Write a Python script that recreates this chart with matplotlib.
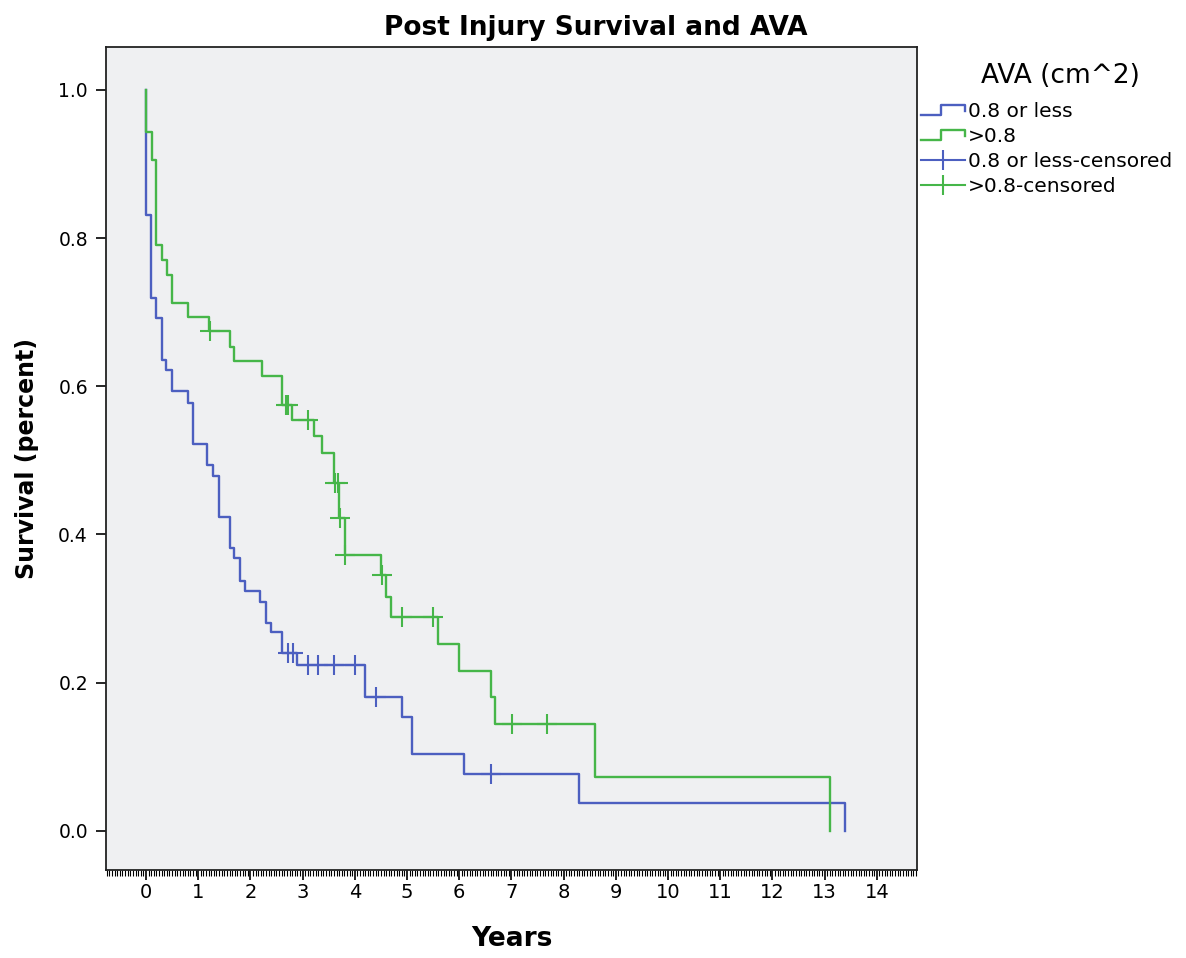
import numpy as np
import matplotlib.pyplot as plt
from matplotlib.lines import Line2D
from matplotlib.legend_handler import HandlerBase
from matplotlib.ticker import MultipleLocator

# Kaplan-Meier steps: time of each drop and survival after it
low_t = [0.0, 0.0, 0.09, 0.19, 0.30, 0.38, 0.50, 0.81, 0.91, 1.17, 1.29, 1.40,
         1.61, 1.69, 1.80, 1.90, 2.18, 2.30, 2.39, 2.60, 2.90, 4.20, 4.90,
         5.10, 6.10, 8.30, 13.39]
low_s = [1.0, 0.831, 0.719, 0.692, 0.636, 0.622, 0.593, 0.578, 0.522, 0.494,
         0.479, 0.423, 0.382, 0.368, 0.337, 0.324, 0.309, 0.281, 0.268, 0.240,
         0.224, 0.180, 0.154, 0.103, 0.0765, 0.038, 0.0]
low_cens = [2.72, 2.82, 3.10, 3.29, 3.60, 4.00, 4.41, 6.60]

high_t = [0.0, 0.0, 0.11, 0.19, 0.30, 0.41, 0.50, 0.81, 1.21, 1.60, 1.69, 2.22,
          2.60, 2.79, 3.21, 3.38, 3.61, 3.70, 3.81, 4.51, 4.60, 4.69, 5.60,
          6.00, 6.60, 6.69, 8.60, 13.10]
high_s = [1.0, 0.943, 0.905, 0.791, 0.771, 0.750, 0.712, 0.693, 0.674, 0.653,
          0.634, 0.614, 0.575, 0.555, 0.533, 0.510, 0.469, 0.422, 0.3725,
          0.345, 0.316, 0.288, 0.252, 0.216, 0.180, 0.144, 0.072, 0.0]
high_cens = [1.22, 2.68, 2.73, 3.11, 3.62, 3.67, 3.72, 3.82, 4.52, 4.90, 5.50,
             7.01, 7.69]

labels = ['0.8 or less', '>0.8', '0.8 or less-censored', '>0.8-censored']
blue = '#4c5fc0'
green = '#46b649'


def surv_at(times, t, s):
    idx = np.searchsorted(t, times, side='right') - 1
    return np.array(s)[idx]


class StepHandler(HandlerBase):
    def create_artists(self, legend, orig_handle, xdescent, ydescent,
                       width, height, fontsize, trans):
        x0, y0 = -xdescent, -ydescent
        xm = x0 + 0.45 * width
        xs = [x0, xm, xm, x0 + width, x0 + width]
        ys = [y0 + 0.15 * height, y0 + 0.15 * height, y0 + 0.85 * height,
              y0 + 0.85 * height, y0 + 0.45 * height]
        line = Line2D(xs, ys, color=orig_handle.get_color(),
                      lw=orig_handle.get_linewidth())
        line.set_transform(trans)
        return [line]


fig = plt.figure(figsize=(11.86, 9.58), dpi=100)
ax = fig.add_axes([106 / 1186, 1 - 870 / 958, 811 / 1186, 823 / 958])
ax.set_facecolor('#eff0f2')

l1, = ax.step(low_t, low_s, where='post', color=blue, lw=1.7)
l2, = ax.step(high_t, high_s, where='post', color=green, lw=1.7)
ax.plot(low_cens, surv_at(low_cens, low_t, low_s), ls='none', marker='+',
        ms=14, mew=1.5, color=blue)
ax.plot(high_cens, surv_at(high_cens, high_t, high_s), ls='none', marker='+',
        ms=14, mew=1.5, color=green)

ax.set_xlim(-0.766, 14.77)
ax.set_ylim(-0.053, 1.058)
ax.xaxis.set_major_locator(MultipleLocator(1))
ax.xaxis.set_minor_locator(MultipleLocator(0.05))
ax.set_yticks(np.arange(0, 1.01, 0.2))
ax.set_yticklabels([f'{v:.1f}' for v in np.arange(0, 1.01, 0.2)])
ax.tick_params(axis='x', which='major', length=7, width=1.2, labelsize=14, pad=2)
ax.tick_params(axis='x', which='minor', length=4, width=0.8)
ax.tick_params(axis='y', length=7, width=1.2, labelsize=13.5, pad=6)
for sp in ax.spines.values():
    sp.set_linewidth(1.3)
    sp.set_color('#222222')

ax.set_xlabel('Years', fontsize=19, fontweight='bold', labelpad=18)
ax.set_ylabel('Survival (percent)', fontsize=17, fontweight='bold', labelpad=14)
fig.text(0.502, 0.971, 'Post Injury Survival and AVA', ha='center', va='center',
         fontsize=19, fontweight='bold')

fig.text(1060 / 1186, 1 - 76 / 958, 'AVA (cm^2)', ha='center', va='center',
         fontsize=19)
h3 = Line2D([], [], color=blue, marker='|', ms=14, mew=1.5, lw=1.5)
h4 = Line2D([], [], color=green, marker='|', ms=14, mew=1.5, lw=1.5)
fig.legend([l1, l2, h3, h4], labels, loc='upper left',
           bbox_to_anchor=(921 / 1186, 1 - 102 / 958), frameon=False,
           fontsize=14.5, handler_map={l1: StepHandler(), l2: StepHandler()},
           handlelength=2.2, handletextpad=0.15, labelspacing=0.3,
           numpoints=1, borderaxespad=0, borderpad=0)

fig.savefig('out.png', dpi=100)
